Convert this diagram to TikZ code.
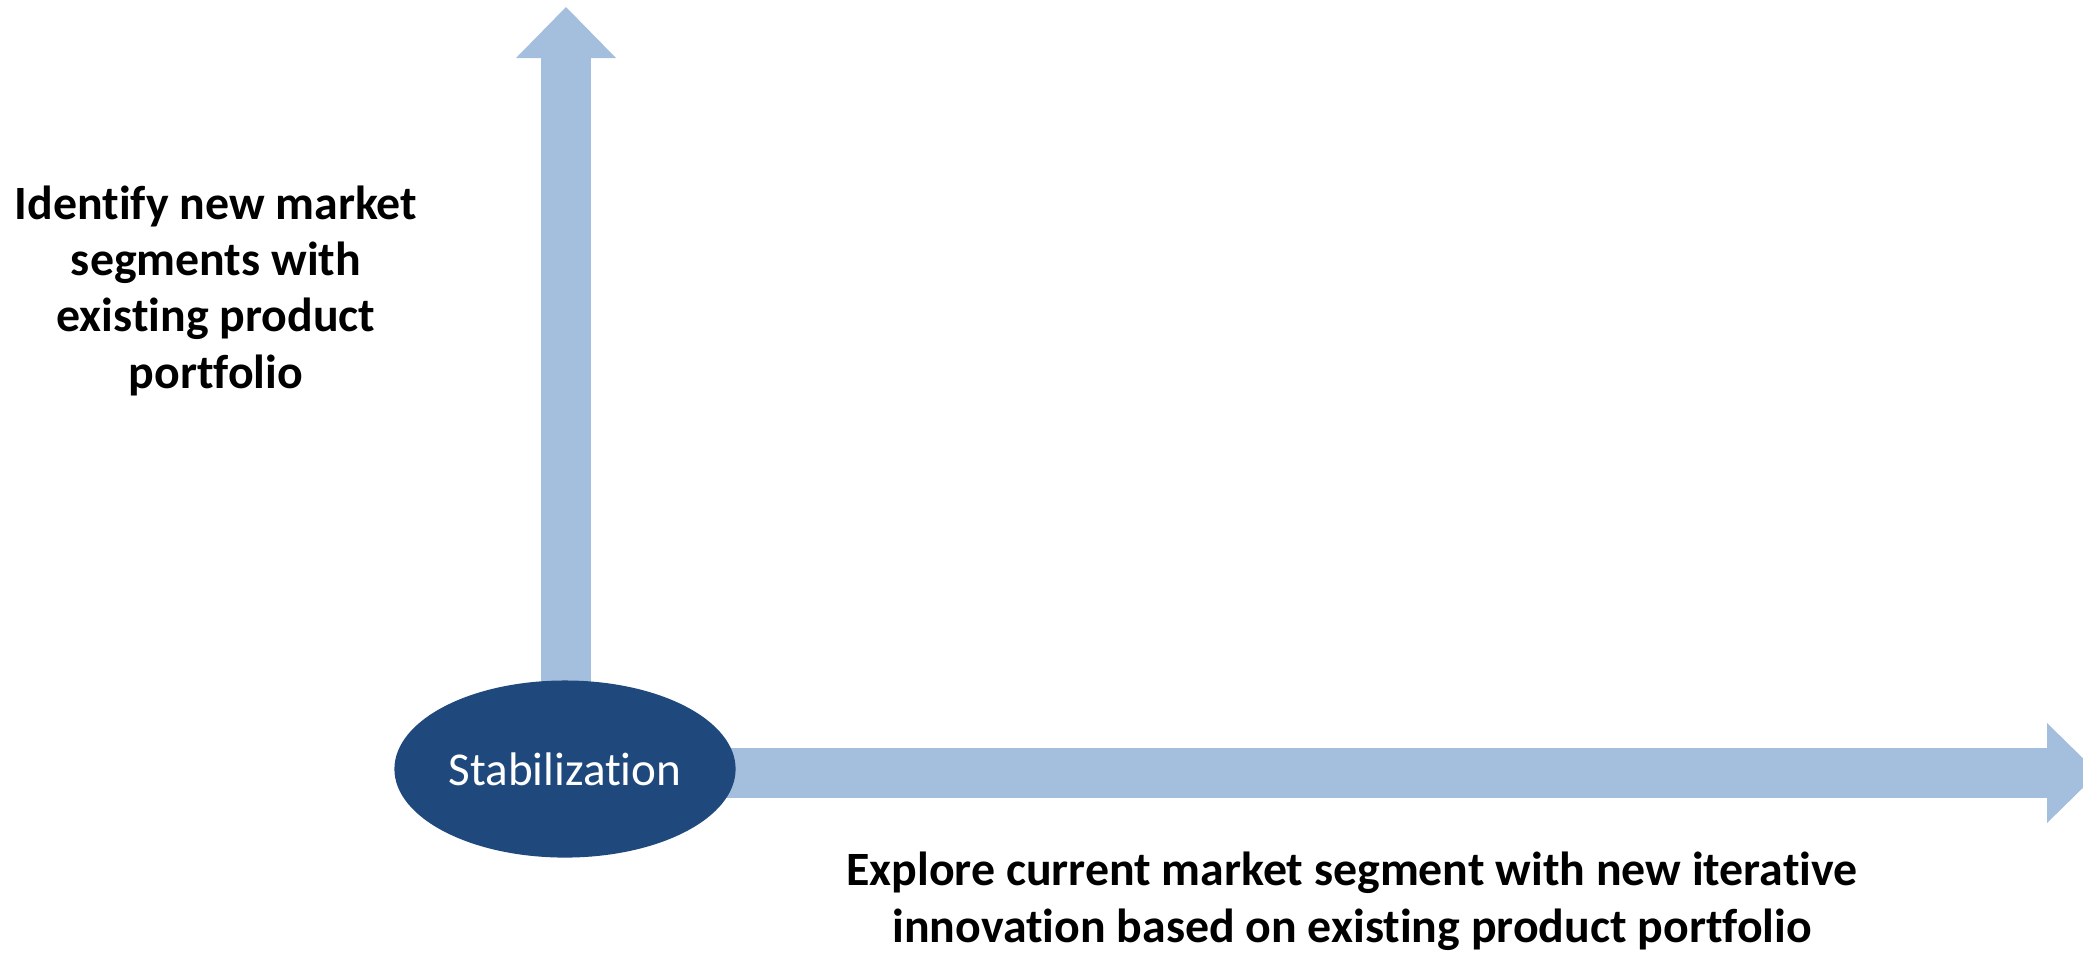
\documentclass[tikz,border=0pt]{standalone}
\usepackage{fontspec}
\setmainfont{Carlito}[Ligatures=NoCommon]
\usetikzlibrary{shapes.geometric, arrows.meta, backgrounds}
\definecolor{stabblue}{RGB}{31, 73, 125}
\definecolor{axisblue}{RGB}{164, 190, 221}

\begin{document}
\begin{tikzpicture}[x=0.01cm, y=-0.01cm]
    % Styles
    \tikzstyle{core} = [ellipse, fill=stabblue, text=white, minimum width=3.41cm,
        minimum height=1.77cm, inner sep=0pt, font=\fontsize{13.4}{16.2}\selectfont]
    \tikzstyle{goal} = [align=center, anchor=base, font=\bfseries\fontsize{13.6}{16.0}\selectfont]
    \tikzstyle{axis} = [line width=0.5cm, axisblue, -{Triangle[length=0.51cm, width=1cm, line width=0pt]}]

    \useasboundingbox (0,0) rectangle (2083,953);
    \clip (0,0) rectangle (2083,953);

    % Nodes
    \node [core] (stab) at (565,769) {Stabilization};
    \node [goal] (segments) at (216,388) {Identify new market\\segments with\\existing product\\portfolio};
    \node [goal] (explore) at (1352,942) {Explore current market segment with new iterative\\innovation based on existing product portfolio};
    \coordinate (upend) at (566,7);
    \coordinate (rightend) at (2098,773);

    % Arrows
    \begin{scope}[on background layer]
        \draw [axis] (stab.center -| upend) -- (upend);
        \draw [axis] (stab.center |- rightend) -- (rightend);
    \end{scope}
\end{tikzpicture}
\end{document}
